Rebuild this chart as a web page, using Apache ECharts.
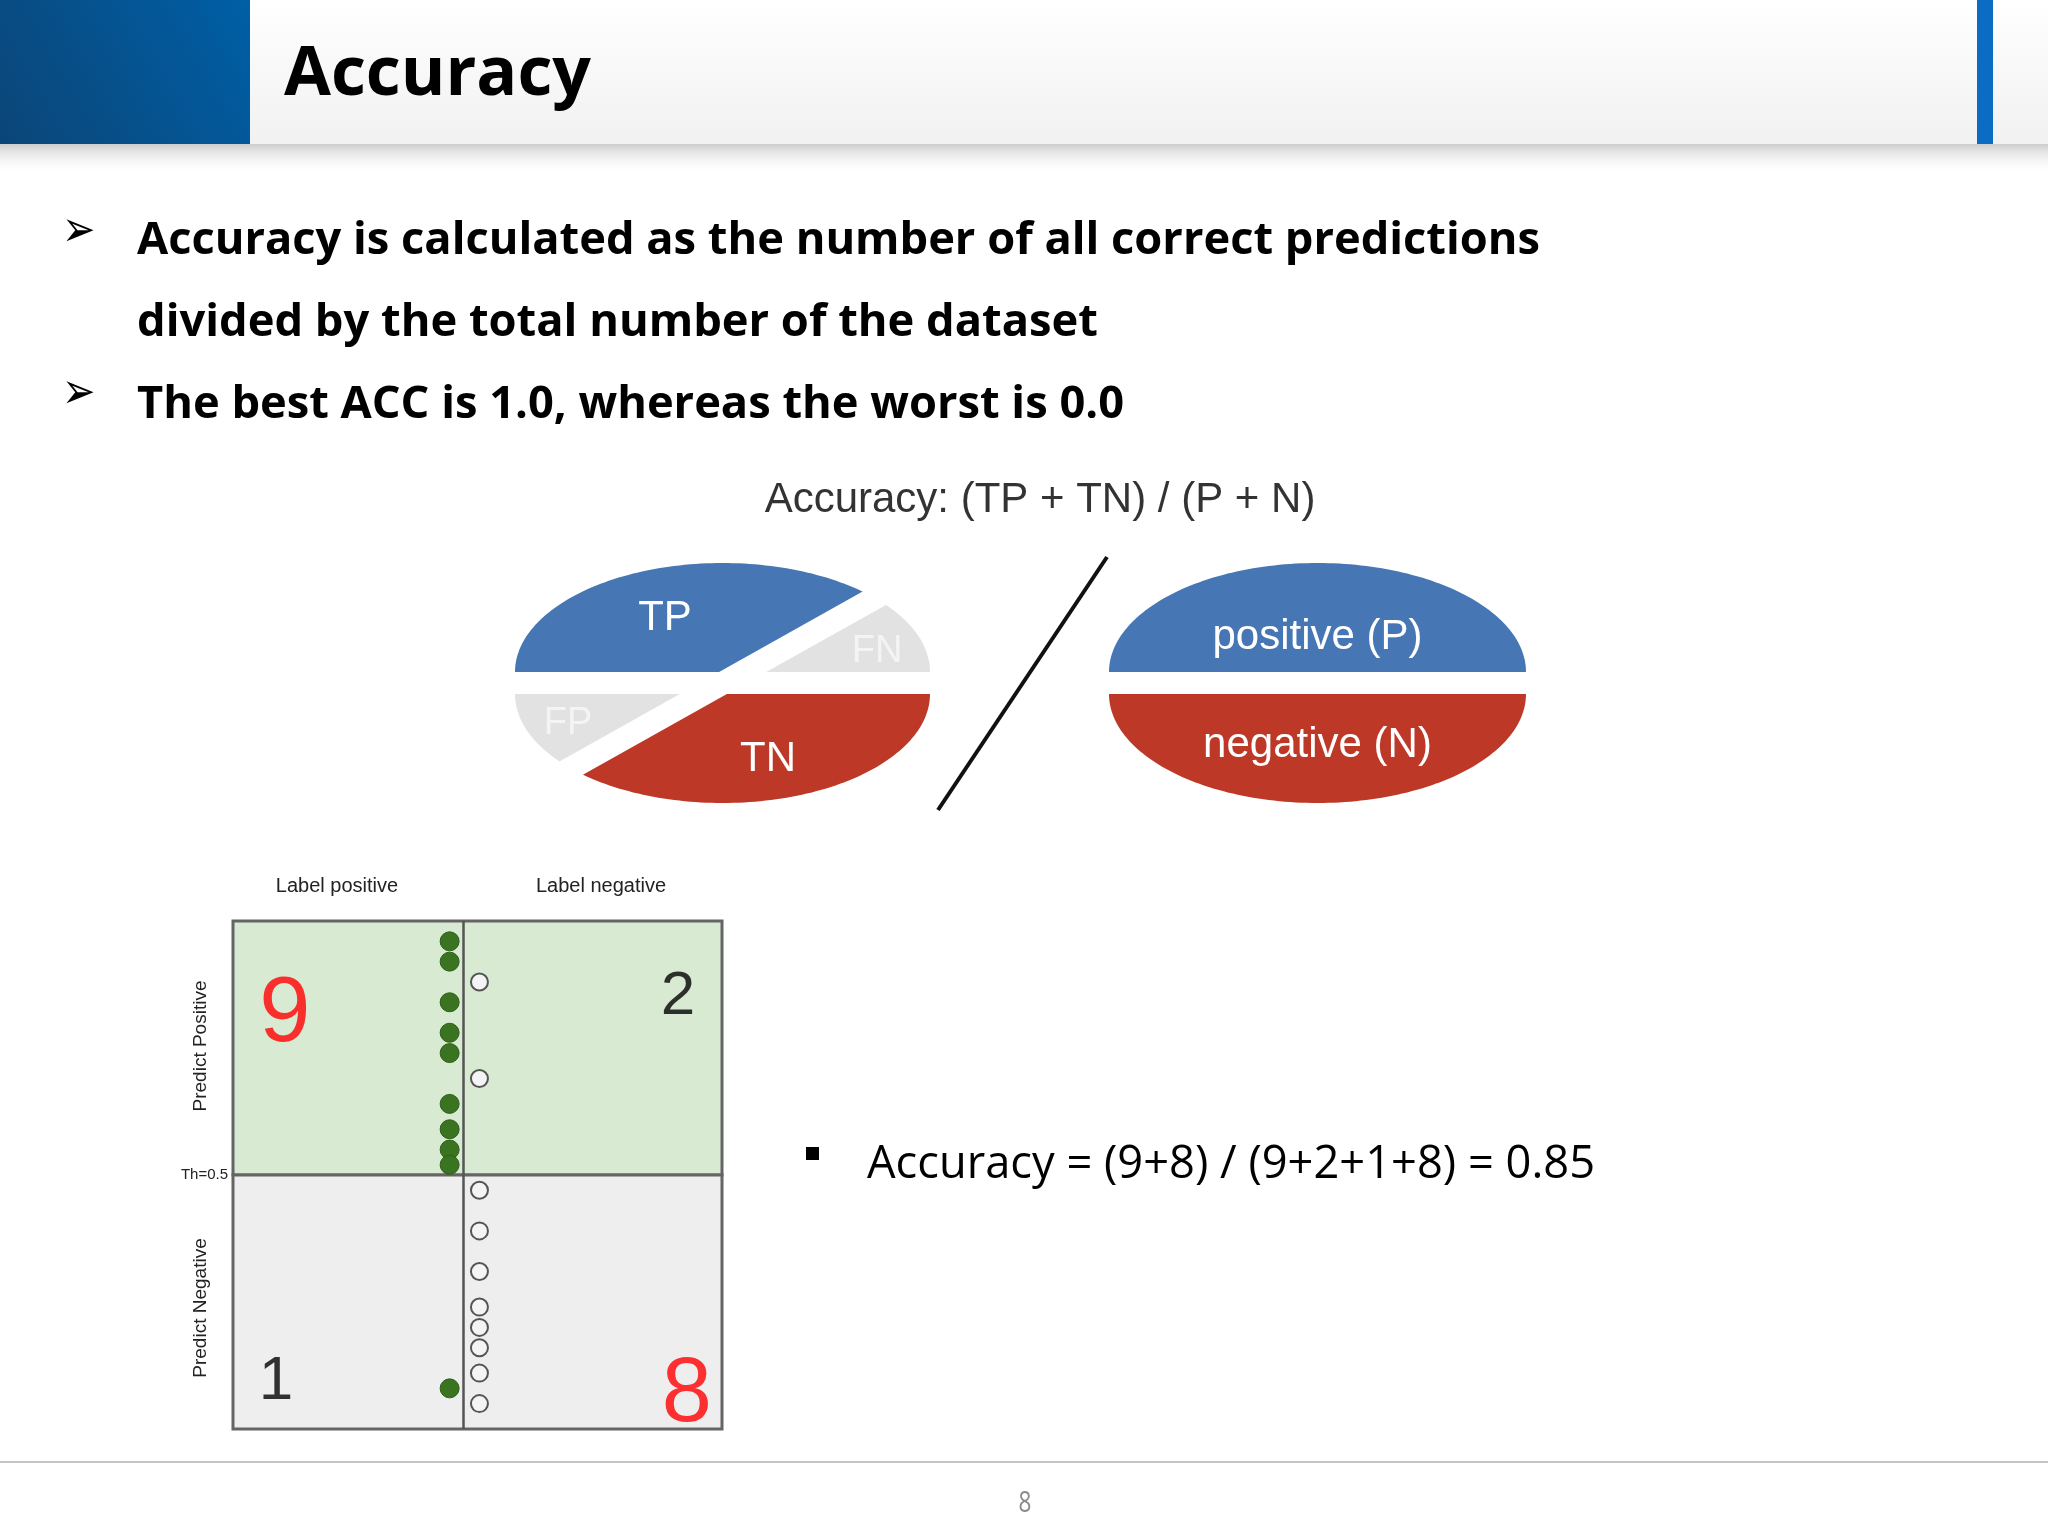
<!DOCTYPE html>
<html>
<head>
<meta charset="utf-8">
<title>Accuracy</title>
<script src="https://cdn.jsdelivr.net/npm/echarts@6/dist/echarts.min.js"></script>
<style>
  html, body { margin: 0; padding: 0; background: #fff; }
  #main { width: 2048px; height: 1536px; }
</style>
</head>
<body>
<div id="main"></div>
<script>
// predicted scores of each sample, grouped by true label
const labelPositiveScores = [0.96, 0.92, 0.84, 0.78, 0.74, 0.64, 0.59, 0.55, 0.52, 0.08];
const labelNegativeScores = [0.88, 0.69, 0.47, 0.39, 0.31, 0.24, 0.20, 0.16, 0.11, 0.05];
const threshold = 0.5;
const columnNames = ['Label positive', 'Label negative'];
const rowNames = ['Predict Positive', 'Predict Negative'];
const bulletLines = [
  'Accuracy is calculated as the number of all correct predictions',
  'divided by the total number of the dataset',
  'The best ACC is 1.0, whereas the worst is 0.0'
];
const formulaText = 'Accuracy: (TP + TN) / (P + N)';
const leftParts = ['TP', 'FN', 'FP', 'TN'];
const rightParts = ['positive (P)', 'negative (N)'];

const TP = labelPositiveScores.filter(s => s >= threshold).length;
const FN = labelPositiveScores.length - TP;
const FP = labelNegativeScores.filter(s => s >= threshold).length;
const TN = labelNegativeScores.length - FP;
const acc = (TP + TN) / (TP + FP + FN + TN);
const accText = 'Accuracy = (' + TP + '+' + TN + ') / (' + TP + '+' + FP + '+' + FN + '+' + TN + ') = ' + acc.toFixed(2);

const BLUE = '#4677b4', RED = '#be3828', GREY = '#e2e2e2';
const ARIAL = '"Liberation Sans", Arial, sans-serif';
const OPEN = '"Open Sans", "Noto Sans", sans-serif';

// text width fitting (the slide text is a bit condensed)
const ctx = document.createElement('canvas').getContext('2d');
function fit(text, font, w) {
  ctx.font = font;
  return w / ctx.measureText(text).width;
}

function txt(x, y, text, o) {
  return {
    type: 'text', x: x, y: y, z: 10, silent: true,
    scaleX: o.scaleX || 1, rotation: o.rotation || 0,
    style: {
      text: text, x: 0, y: 0,
      fill: o.color || '#000',
      fontSize: o.size, fontFamily: o.family || ARIAL, fontWeight: o.weight || 'normal',
      align: o.align || 'left', textAlign: o.align || 'left',
      verticalAlign: 'middle', textVerticalAlign: 'middle'
    }
  };
}

// half ellipse outline, flat edge at cy
function halfEllipse(cx, cy, rx, ry, up) {
  const pts = [];
  for (let i = 0; i <= 120; i++) {
    const t = Math.PI * i / 120;
    pts.push([cx - rx * Math.cos(t), cy + (up ? -1 : 1) * ry * Math.sin(t)]);
  }
  return pts;
}
// keep the part where f(p) >= 0
function clip(pts, f) {
  const out = [];
  for (let i = 0; i < pts.length; i++) {
    const a = pts[i], b = pts[(i + 1) % pts.length];
    const fa = f(a), fb = f(b);
    if (fa >= 0) out.push(a);
    if ((fa >= 0) !== (fb >= 0)) {
      const t = fa / (fa - fb);
      out.push([a[0] + t * (b[0] - a[0]), a[1] + t * (b[1] - a[1])]);
    }
  }
  return out;
}
const cut = p => ((p[0] - 723) * 0.56 + (p[1] - 683)) / Math.hypot(1, 0.56);
const gap = 11.5;
const leftOf = p => -cut(p) - gap;
const rightOf = p => cut(p) - gap;

const LX = 722.5, RX = 1317.5, TOPY = 672, BOTY = 694;
const poly = (points, fill) => ({ type: 'polygon', silent: true, z: 5, shape: { points: points }, style: { fill: fill } });

const graphics = [
  // header
  { type: 'rect', silent: true, shape: { x: 0, y: 144, width: 2048, height: 30 },
    style: { fill: { type: 'linear', x: 0, y: 0, x2: 0, y2: 1, colorStops: [{ offset: 0, color: '#cdcdcd' }, { offset: 1, color: 'rgba(255,255,255,0)' }] } } },
  { type: 'rect', silent: true, shape: { x: 250, y: 0, width: 1798, height: 144 },
    style: { fill: { type: 'linear', x: 0, y: 0, x2: 0, y2: 1, colorStops: [{ offset: 0, color: '#ffffff' }, { offset: 1, color: '#f1f1f1' }] } } },
  { type: 'rect', silent: true, shape: { x: 0, y: 0, width: 250, height: 144 },
    style: { fill: { type: 'linear', x: 0, y: 1, x2: 1, y2: 0, colorStops: [{ offset: 0, color: '#0b4577' }, { offset: 1, color: '#005fa6' }] } } },
  { type: 'rect', silent: true, shape: { x: 1977, y: 0, width: 16, height: 144 }, style: { fill: '#0a6cc2' } },
  txt(284, 76, 'Accuracy', { size: 68, family: OPEN, weight: 'bold', scaleX: fit('Accuracy', 'bold 68px ' + OPEN, 307) }),

  // bullets
  txt(62, 233, '\u27A2', { size: 50, family: '"DejaVu Sans"', scaleX: 0.8 }),
  txt(62, 395, '\u27A2', { size: 50, family: '"DejaVu Sans"', scaleX: 0.8 }),
  txt(137, 241, bulletLines[0], { size: 44, family: OPEN, weight: 'bold', scaleX: fit(bulletLines[0], 'bold 44px ' + OPEN, 1403) }),
  txt(137, 323, bulletLines[1], { size: 44, family: OPEN, weight: 'bold', scaleX: fit(bulletLines[1], 'bold 44px ' + OPEN, 961) }),
  txt(137, 405, bulletLines[2], { size: 44, family: OPEN, weight: 'bold', scaleX: fit(bulletLines[2], 'bold 44px ' + OPEN, 987) }),

  // formula + ellipses
  txt(1040, 500, formulaText, { size: 42, color: '#333', align: 'center' }),
  poly(clip(halfEllipse(LX, TOPY, 207.5, 109, true), leftOf), BLUE),
  poly(clip(halfEllipse(LX, TOPY, 207.5, 109, true), rightOf), GREY),
  poly(clip(halfEllipse(LX, BOTY, 207.5, 109, false), leftOf), GREY),
  poly(clip(halfEllipse(LX, BOTY, 207.5, 109, false), rightOf), RED),
  poly(halfEllipse(RX, TOPY, 208.5, 109, true), BLUE),
  poly(halfEllipse(RX, BOTY, 208.5, 109, false), RED),
  txt(665, 618, leftParts[0], { size: 42, color: '#fff', align: 'center' }),
  txt(877, 652, leftParts[1], { size: 38, color: '#f4f4f4', align: 'center' }),
  txt(568, 724, leftParts[2], { size: 38, color: '#f4f4f4', align: 'center' }),
  txt(768, 759, leftParts[3], { size: 42, color: '#fff', align: 'center' }),
  txt(RX, 637, rightParts[0], { size: 42, color: '#fff', align: 'center' }),
  txt(RX, 745, rightParts[1], { size: 42, color: '#fff', align: 'center' }),
  { type: 'line', silent: true, z: 5, shape: { x1: 1107, y1: 557, x2: 938, y2: 810 }, style: { stroke: '#111', lineWidth: 4 } },

  // matrix labels
  txt(337, 886, columnNames[0], { size: 20, color: '#222', align: 'center' }),
  txt(601, 886, columnNames[1], { size: 20, color: '#222', align: 'center' }),
  txt(201, 1046, rowNames[0], { size: 19, color: '#222', align: 'center', rotation: Math.PI / 2 }),
  txt(201, 1308, rowNames[1], { size: 19, color: '#222', align: 'center', rotation: Math.PI / 2 }),

  // result bullet
  { type: 'rect', silent: true, shape: { x: 806, y: 1147, width: 13, height: 13 }, style: { fill: '#000' } },
  txt(867, 1165, accText, { size: 46, family: OPEN, scaleX: fit(accText, '46px ' + OPEN, 728) }),

  // footer
  { type: 'line', silent: true, shape: { x1: 0, y1: 1462, x2: 2048, y2: 1462 }, style: { stroke: '#c4c4c4', lineWidth: 2 } },
  txt(1025, 1503, '8', { size: 30, family: OPEN, color: '#8a8a8a', align: 'center', scaleX: 0.75 })
];

const posX = 0.443, negX = 0.504, dividerX = 0.474;
const countLabels = [
  { value: [0.106, 0.813], name: String(TP), label: { color: '#ff0000', fontSize: 92 } },
  { value: [0.910, 0.851], name: String(FP), label: { color: '#000000', fontSize: 62 } },
  { value: [0.088, 0.093], name: String(FN), label: { color: '#000000', fontSize: 62 } },
  { value: [0.928, 0.064], name: String(TN), label: { color: '#ff0000', fontSize: 90 } }
];

const chart = echarts.init(document.getElementById('main'));
chart.setOption({
  animation: false,
  backgroundColor: '#fff',
  graphic: { elements: graphics },
  grid: { left: 233, top: 921, width: 489, height: 508, show: false },
  xAxis: { type: 'value', min: 0, max: 1, show: false },
  yAxis: {
    type: 'value', min: 0, max: 1, interval: 0.5,
    axisLine: { show: false }, axisTick: { show: false }, splitLine: { show: false },
    axisLabel: {
      margin: 5, fontSize: 15, color: '#222', fontFamily: ARIAL,
      formatter: v => (Math.abs(v - threshold) < 1e-9 ? 'Th=' + threshold : '')
    }
  },
  series: [
    {
      type: 'scatter', z: 1, silent: true, symbolSize: 0, data: [[0, 0]],
      markArea: {
        silent: true,
        data: [
          [{ yAxis: threshold, itemStyle: { color: '#d9ead3', borderColor: '#656565', borderWidth: 3 } }, { yAxis: 1 }],
          [{ yAxis: 0, itemStyle: { color: '#eeeeee', borderColor: '#656565', borderWidth: 3 } }, { yAxis: threshold }]
        ]
      }
    },
    {
      type: 'scatter', z: 2, silent: true, symbolSize: 0, data: [[0, 0]],
      markLine: {
        silent: true, symbol: 'none', label: { show: false },
        lineStyle: { color: '#555', width: 2.5, type: 'solid' },
        data: [{ xAxis: dividerX }]
      }
    },
    {
      name: columnNames[0], type: 'scatter', z: 3, silent: true, symbolSize: 19,
      itemStyle: { color: '#3a7420', borderColor: '#2f5f1a', borderWidth: 1, opacity: 1 },
      data: labelPositiveScores.map(s => [posX, s])
    },
    {
      name: columnNames[1], type: 'scatter', z: 3, silent: true, symbolSize: 17,
      itemStyle: { color: '#f4f4f4', borderColor: '#555', borderWidth: 2, opacity: 1 },
      data: labelNegativeScores.map(s => [negX, s])
    },
    {
      type: 'scatter', z: 4, silent: true, symbolSize: 0,
      label: { show: true, position: 'inside', fontFamily: ARIAL, textBorderWidth: 0, formatter: p => p.name },
      data: countLabels
    }
  ]
});
</script>
</body>
</html>
